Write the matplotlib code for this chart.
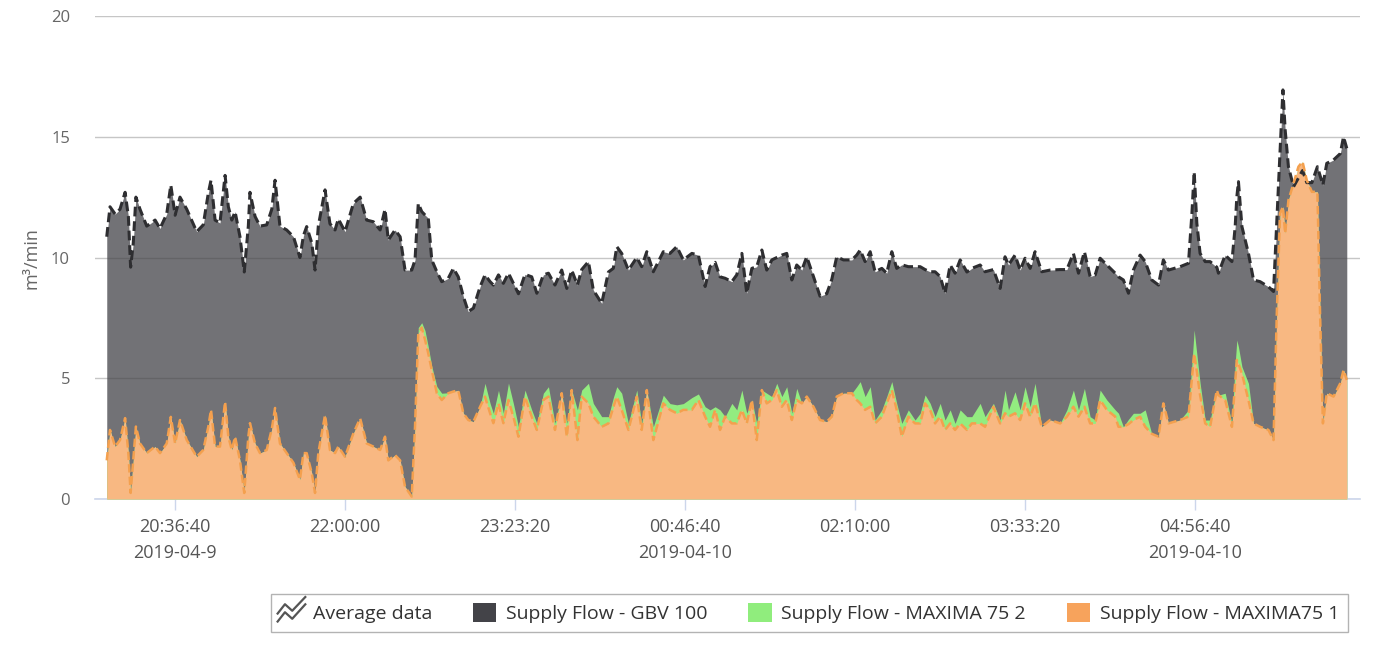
import numpy as np
import pandas as pd
import matplotlib
matplotlib.use("Agg")
import matplotlib.pyplot as plt
from matplotlib.lines import Line2D
from matplotlib.patches import Patch
from matplotlib.path import Path

plt.rcParams['font.family'] = ['Open Sans', 'DejaVu Sans']
plt.rcParams['lines.scale_dashes'] = False

start = pd.Timestamp("2019-04-09 20:00:00")

# minutes after 2019-04-09 20:00
minutes = [
    3.2, 4.8, 7.3, 9.7, 12.2, 13.8, 14.9, 16.2, 17.5, 19.5,
    22.8, 26.9, 29.3, 32.6, 34.6, 36.7, 39.1, 42.4, 47.3, 50.5,
    53.0, 54.3, 56.3, 58.7, 61.2, 62.8, 64.5, 66.1, 68.5, 70.6,
    72.6, 73.4, 75.9, 78.3, 81.6, 84.1, 85.7, 88.1, 91.4, 94.7,
    97.9, 99.6, 101.2, 103.7, 105.3, 106.9, 110.2, 112.6, 115.1, 116.7,
    120.0, 124.1, 127.4, 130.6, 133.9, 137.2, 139.6, 141.2, 144.5, 147.0,
    149.4, 152.7, 154.3, 155.9, 157.6, 159.2, 160.8, 162.5, 165.0, 167.4,
    170.6, 173.1, 175.5, 178.0, 180.4, 182.9, 186.2, 188.6, 191.1, 192.7,
    195.2, 197.6, 200.1, 202.5, 205.0, 208.2, 211.5, 214.0, 217.2, 219.7,
    222.9, 226.2, 228.7, 231.1, 233.9, 236.0, 239.3, 241.7, 245.8, 249.1,
    251.5, 253.2, 255.6, 258.9, 263.0, 265.4, 267.9, 271.1, 276.0, 279.3,
    282.6, 285.8, 290.0, 293.2, 296.5, 298.9, 301.4, 303.8, 306.3, 309.6,
    312.0, 314.5, 316.9, 319.4, 321.8, 324.3, 326.7, 329.2, 331.6, 334.1,
    336.5, 339.0, 341.4, 343.9, 346.3, 349.6, 352.8, 356.1, 358.6, 361.0,
    364.3, 368.4, 370.8, 372.5, 374.9, 377.4, 379.8, 383.1, 385.5, 388.0,
    390.4, 392.9, 396.1, 399.4, 401.9, 404.3, 406.8, 409.2, 411.7, 414.1,
    416.6, 419.0, 421.5, 424.8, 427.2, 431.3, 433.7, 437.8, 441.1, 443.5,
    445.2, 448.4, 450.9, 453.3, 455.8, 458.2, 461.5, 465.6, 470.5, 473.8,
    477.0, 479.5, 482.4, 485.2, 487.7, 490.1, 493.4, 497.5, 499.1, 501.5,
    504.0, 506.4, 509.7, 512.2, 515.4, 518.7, 521.1, 523.6, 529.3, 533.4,
    535.1, 536.2, 537.5, 539.1, 541.6, 544.0, 547.3, 548.1, 551.4, 554.7,
    556.3, 557.1, 557.9, 559.6, 562.8, 565.3, 568.5, 572.6, 575.1, 576.7,
    578.3, 579.7, 580.8, 582.4, 584.9, 587.3, 589.3, 591.4, 593.9, 596.6,
    597.9, 599.3, 601.2, 604.5, 607.8, 609.4, 611.0,
]

gbv100 = [
    10.86, 12.1, 11.8, 12.0, 12.7, 11.7, 9.6, 10.6, 12.5, 12.0,
    11.3, 11.55, 11.2, 11.8, 13.0, 11.75, 12.5, 12.0, 11.07, 11.35,
    12.67, 13.2, 11.55, 11.43, 13.4, 12.1, 11.55, 11.9, 10.86, 9.4,
    11.3, 12.7, 11.7, 11.3, 11.35, 12.0, 13.2, 11.3, 11.14, 10.86,
    10.0, 10.9, 11.28, 10.6, 9.48, 11.3, 12.8, 11.4, 11.14, 11.6,
    11.07, 12.24, 12.5, 11.55, 11.48, 11.14, 12.0, 10.72, 11.14, 10.86,
    9.48, 9.48, 9.9, 12.24, 11.9, 11.76, 11.63, 9.9, 9.41, 9.0,
    9.14, 9.55, 9.2, 8.38, 7.76, 7.9, 8.79, 9.28, 9.0, 8.86,
    9.28, 8.93, 9.35, 8.93, 8.5, 9.3, 9.2, 8.52, 9.28, 9.35,
    8.86, 9.48, 8.72, 9.48, 8.86, 9.5, 9.83, 8.65, 8.1, 9.4,
    9.55, 10.45, 10.17, 9.48, 10.0, 9.62, 10.24, 9.41, 10.24, 10.17,
    10.45, 9.9, 10.17, 10.1, 8.8, 9.62, 9.8, 9.2, 9.14, 9.0,
    9.28, 10.17, 8.52, 9.55, 9.62, 10.31, 9.48, 9.9, 10.0, 10.1,
    10.17, 9.07, 9.69, 9.48, 10.03, 9.21, 8.4, 8.5, 9.1, 10.03,
    9.9, 9.9, 10.1, 10.31, 9.83, 10.24, 9.41, 9.55, 9.35, 10.24,
    9.55, 9.7, 9.62, 9.62, 9.62, 9.5, 9.41, 9.41, 9.21, 8.52,
    9.69, 9.35, 9.9, 9.4, 9.55, 9.69, 9.41, 9.5, 8.72, 10.03,
    9.69, 10.1, 9.48, 9.97, 9.55, 10.24, 9.41, 9.48, 9.5, 9.5,
    10.17, 9.35, 10.24, 9.21, 9.28, 9.97, 9.69, 9.35, 9.2, 9.07,
    8.52, 9.48, 10.1, 9.83, 9.07, 8.86, 9.9, 9.48, 9.62, 9.76,
    11.83, 13.55, 11.42, 10.17, 9.83, 9.83, 9.6, 9.35, 10.1, 9.83,
    11.28, 12.5, 13.14, 11.28, 10.17, 9.07, 9.0, 8.79, 8.59, 11.5,
    14.5, 16.94, 15.28, 13.76, 12.93, 13.3, 13.6, 13.1, 13.1, 13.76,
    13.4, 13.0, 13.9, 14.04, 14.3, 15.0, 14.52,
]

maxima75_2 = [
    1.6, 2.86, 2.17, 2.44, 3.35, 1.9, 0.25, 1.6, 3.0, 2.3,
    1.9, 2.17, 1.9, 2.3, 3.4, 2.3, 3.27, 2.44, 1.75, 2.03,
    3.0, 3.7, 2.17, 2.17, 4.03, 2.58, 2.03, 2.58, 1.6, 0.25,
    2.58, 3.14, 2.3, 1.9, 2.03, 2.9, 3.77, 2.3, 1.9, 1.5,
    0.8, 1.9, 1.9, 1.07, 0.25, 1.9, 3.48, 2.03, 1.9, 2.17,
    1.75, 2.72, 3.34, 2.3, 2.17, 2.03, 2.58, 1.6, 1.82, 1.6,
    0.51, 0.1, 3.0, 7.1, 7.3, 6.97, 6.3, 5.5, 4.66, 4.38,
    4.4, 4.45, 4.5, 3.55, 3.27, 3.2, 3.82, 4.79, 3.96, 3.55,
    4.5, 3.55, 4.8, 3.96, 2.99, 4.51, 3.69, 3.13, 4.38, 4.65,
    3.13, 4.38, 3.13, 4.51, 3.69, 4.51, 4.79, 3.96, 3.41, 3.41,
    4.2, 4.65, 4.38, 3.13, 4.51, 3.13, 4.51, 2.99, 4.3, 3.95,
    3.9, 3.95, 4.2, 4.35, 3.82, 3.69, 3.82, 3.69, 3.41, 3.96,
    3.69, 4.51, 3.55, 4.1, 3.13, 4.51, 4.38, 4.24, 4.79, 4.24,
    4.65, 3.55, 4.58, 3.96, 4.24, 3.82, 3.27, 3.2, 3.41, 4.24,
    4.38, 4.38, 4.65, 4.86, 4.24, 4.65, 3.27, 3.69, 4.24, 4.86,
    3.96, 3.13, 3.69, 3.27, 3.55, 4.31, 3.96, 3.41, 3.96, 3.27,
    3.69, 3.13, 3.69, 3.41, 3.41, 3.96, 3.41, 3.96, 3.27, 4.51,
    3.69, 4.44, 3.69, 4.65, 3.82, 4.79, 2.99, 3.27, 3.13, 3.69,
    4.51, 3.69, 4.58, 3.41, 3.27, 4.51, 4.1, 3.69, 3.55, 2.99,
    3.3, 3.55, 3.55, 3.69, 2.7, 2.58, 3.96, 3.13, 3.27, 3.69,
    5.6, 7.0, 6.0, 4.8, 3.27, 3.27, 4.51, 4.3, 4.38, 3.13,
    5.6, 6.58, 6.3, 5.48, 4.79, 3.13, 2.99, 2.86, 2.44, 7.69,
    11.83, 12.1, 11.0, 12.38, 13.07, 13.76, 13.97, 13.2, 12.72, 12.72,
    7.69, 3.13, 4.38, 4.24, 4.79, 5.34, 4.93,
]

maxima75_1 = [
    1.6, 2.86, 2.17, 2.44, 3.35, 1.9, 0.25, 1.6, 3.0, 2.3,
    1.9, 2.17, 1.9, 2.3, 3.4, 2.3, 3.27, 2.44, 1.75, 2.03,
    3.0, 3.7, 2.17, 2.17, 4.03, 2.58, 2.03, 2.58, 1.6, 0.25,
    2.58, 3.14, 2.3, 1.9, 2.03, 2.9, 3.77, 2.3, 1.9, 1.5,
    0.8, 1.9, 1.9, 1.07, 0.25, 1.9, 3.48, 2.03, 1.9, 2.17,
    1.75, 2.72, 3.34, 2.3, 2.17, 2.03, 2.58, 1.6, 1.82, 1.6,
    0.51, 0.1, 3.0, 6.86, 7.1, 6.6, 6.03, 5.34, 4.38, 4.1,
    4.38, 4.45, 4.5, 3.55, 3.27, 3.2, 3.82, 4.24, 3.55, 3.14,
    3.96, 3.14, 4.1, 3.41, 2.58, 4.24, 3.41, 2.86, 4.1, 4.24,
    2.86, 4.38, 2.58, 4.51, 2.44, 4.24, 3.96, 3.41, 2.99, 3.13,
    3.8, 4.24, 3.69, 2.86, 4.24, 2.86, 4.51, 2.44, 3.96, 3.69,
    3.55, 3.69, 3.69, 4.1, 3.41, 2.99, 3.69, 2.86, 3.41, 3.13,
    3.13, 3.69, 3.13, 4.1, 2.44, 4.51, 3.96, 4.1, 4.51, 3.82,
    4.1, 3.27, 4.1, 3.96, 4.24, 3.82, 3.27, 3.2, 3.41, 4.24,
    4.38, 4.38, 4.1, 3.96, 3.69, 3.82, 3.13, 3.41, 3.96, 4.51,
    3.69, 2.58, 3.41, 3.13, 3.13, 3.96, 3.69, 3.13, 3.41, 2.86,
    3.13, 2.86, 3.13, 2.86, 3.13, 3.13, 2.99, 3.82, 3.13, 3.55,
    3.41, 3.55, 3.27, 3.96, 3.41, 3.96, 2.99, 3.27, 3.13, 3.41,
    3.82, 3.41, 3.82, 3.13, 3.13, 4.1, 3.69, 3.41, 2.99, 2.99,
    3.1, 3.27, 3.41, 2.99, 2.7, 2.58, 3.96, 3.13, 3.27, 3.41,
    5.0, 6.03, 5.3, 4.3, 3.13, 2.99, 4.51, 4.3, 4.1, 2.99,
    4.8, 5.76, 5.6, 5.2, 4.1, 3.13, 2.99, 2.86, 2.44, 7.69,
    11.83, 12.1, 11.0, 12.38, 13.07, 13.76, 13.97, 13.2, 12.72, 12.72,
    7.69, 3.13, 4.38, 4.24, 4.79, 5.34, 4.93,
]

tick_times = ["2019-04-09 20:36:40", "2019-04-09 22:00:00", "2019-04-09 23:23:20",
              "2019-04-10 00:46:40", "2019-04-10 02:10:00", "2019-04-10 03:33:20",
              "2019-04-10 04:56:40"]
tick_labels = ["20:36:40\n2019-04-9", "22:00:00", "23:23:20", "00:46:40\n2019-04-10",
               "02:10:00", "03:33:20", "04:56:40\n2019-04-10"]
y_ticks = [0, 5, 10, 15, 20]

x = np.array(minutes)
tick_pos = [(pd.Timestamp(t) - start).total_seconds() / 60 for t in tick_times]

fig = plt.figure(figsize=(13.83, 6.59), dpi=100)
ax = fig.add_axes([0.0687, 0.2428, 0.9147, 0.7329])

# GBV 100 behind, then MAXIMA 75 2, then MAXIMA75 1 in front
ax.fill_between(x, gbv100, color='#434348', alpha=0.75, lw=0, zorder=2)
ax.plot(x, gbv100, color='#2e2e31', lw=2.2, dashes=(7, 3.5), zorder=5)
ax.fill_between(x, maxima75_2, color='#93ec80', lw=0, zorder=3)
ax.fill_between(x, maxima75_1, color='#f8b882', lw=0, zorder=4)
ax.plot(x, maxima75_1, color='#f4a04e', lw=1.8, dashes=(6, 3), zorder=5)

ax.set_xlim(-2.55, 617.5)
ax.set_ylim(0, 20)
ax.set_axisbelow(True)
ax.yaxis.grid(True, color='#c6c6c6', lw=1)

for s in ['top', 'right', 'left']:
    ax.spines[s].set_visible(False)
ax.spines['bottom'].set_color('#ccd6eb')
ax.spines['bottom'].set_linewidth(1.2)

ax.set_yticks(y_ticks)
ax.set_xticks(tick_pos)
ax.set_xticklabels(tick_labels, linespacing=1.55)
ax.tick_params(axis='y', length=0, pad=18, labelcolor='#666666', labelsize=12)
ax.tick_params(axis='x', length=8, width=1, color='#ccd6eb', pad=6,
               labelcolor='#555555', labelsize=13)

fig.text(32 / 1383, 1 - 258 / 659, 'm³/min', rotation=90, ha='center', va='center',
         color='#666666', fontsize=13)

zig = Path([(-1, -0.75), (-0.45, -0.05), (0.05, -0.5), (1, 0.55),
            (-1, -0.2), (-0.45, 0.5), (0.05, 0.05), (1, 1.05)],
           [Path.MOVETO, Path.LINETO, Path.LINETO, Path.LINETO,
            Path.MOVETO, Path.LINETO, Path.LINETO, Path.LINETO])
handles = [
    Line2D([], [], ls='none', marker=zig, markersize=22, markerfacecolor='none',
           markeredgecolor='#555555', markeredgewidth=1.6),
    Patch(facecolor='#434348', edgecolor='none'),
    Patch(facecolor='#90ed7d', edgecolor='none'),
    Patch(facecolor='#f7a35c', edgecolor='none'),
]
labels = ['Average data', 'Supply Flow - GBV 100', 'Supply Flow - MAXIMA 75 2',
          'Supply Flow - MAXIMA75 1']
leg = fig.legend(handles, labels, ncol=4, loc='center', bbox_to_anchor=(0.5853, 0.0698),
                 frameon=True, fancybox=False, edgecolor='#a0a0a0', fontsize=14,
                 handlelength=1.2, handleheight=1.1, handletextpad=0.5,
                 columnspacing=2.1, borderpad=0.45)
leg.get_frame().set_linewidth(1.0)
for t in leg.get_texts():
    t.set_color('#333333')

fig.savefig('out.png', dpi=100)
